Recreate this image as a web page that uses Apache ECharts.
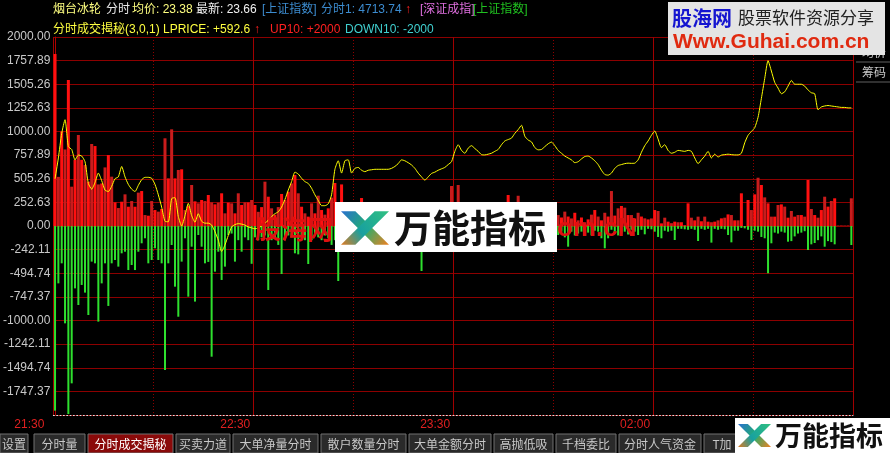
<!DOCTYPE html>
<html><head><meta charset="utf-8">
<script src="https://cdn.jsdelivr.net/npm/echarts@6/dist/echarts.min.js"></script>
<style>html,body{margin:0;padding:0;background:#000;}#c{width:890px;height:453px;}</style>
</head><body><div id="c"></div>
<script>
// ---- data ----
const timeLabels = ['21:30', '22:30', '23:30', '02:00', ''];
const yTickLabels = ['2000.00','1757.89','1505.26','1252.63','1000.00','757.89','505.26','252.63','0.00',
  '-242.11','-494.74','-747.37','-1000.00','-1242.11','-1494.74','-1747.37',''];

const buyVol = [
  1820,520,1000,810,1545,416,700,963,700,645,470,868,846,440,450,620,751,522,250,190,
  257,335,204,264,204,353,370,116,109,264,169,152,180,928,504,1023,504,593,600,169,
  212,434,261,240,275,264,328,250,229,247,346,134,247,240,134,346,222,250,250,275,
  222,150,200,469,310,187,120,200,339,275,363,451,540,346,204,134,99,240,134,321,
  169,120,187,300,455,150,440,200,150,100,120,100,296,150,120,80,150,100,130,90,
  160,120,80,140,100,150,90,130,110,80,150,100,120,90,140,100,80,120,100,423,
  150,434,120,100,150,90,120,100,130,80,150,100,120,150,100,200,328,150,120,320,
  180,120,100,90,150,120,100,80,130,100,120,116,90,152,100,80,140,60,90,40,
  70,120,169,100,60,140,100,370,110,187,212,194,116,116,80,140,100,81,70,80,
  169,159,28,88,46,30,46,40,40,10,240,88,60,99,50,99,46,40,46,60,
  81,88,123,116,60,60,346,0,275,169,335,511,434,303,240,99,99,222,229,205,
  88,159,99,116,116,99,487,180,116,88,169,310,205,265,293,5,5,5,5,293
];
const sellVol = [
  -1954,-607,-395,-1030,-1990,-1665,-660,-836,-624,-705,-942,-377,-395,-1012,-607,-395,-846,-395,-360,-430,
  -289,-272,-466,-413,-466,-272,-183,-130,-395,-360,-236,-360,-395,-1524,-395,-201,-642,-960,-377,-130,
  -748,-219,-800,-95,-219,-395,-380,-1383,-483,-272,-571,-430,-95,-80,-377,-150,-272,-120,-150,-400,
  -120,-150,-120,-100,-677,-150,-120,-200,-508,-150,-100,-120,-289,-300,-100,-150,-402,-150,-100,-120,
  -150,-100,-130,-200,-150,-582,-120,-100,-150,-100,-130,-120,-150,-100,-120,-90,-130,-100,-80,-120,
  -100,-150,-120,-100,-90,-130,-100,-80,-120,-100,-476,-100,-120,-90,-130,-100,-80,-120,-100,-150,
  -120,-100,-140,-90,-120,-100,-150,-80,-110,-130,-90,-120,-100,-140,-80,-120,-100,-90,-130,-110,
  -100,-120,-90,-140,-100,-80,-120,-100,-90,-130,-100,-95,-60,-120,-219,-60,-100,-80,-60,-40,
  -70,-100,-50,-60,-130,-236,-130,-40,-60,-100,-80,-60,-90,-40,-60,-95,-40,-88,-30,-35,
  -60,-116,-130,-50,-60,-50,-148,-30,-30,-35,-40,-30,-40,-159,-30,-40,-30,-176,-30,-40,
  -30,-35,-95,-173,-50,-50,-20,-25,-40,-148,-50,-60,-116,-130,-500,-183,-70,-80,-60,-70,
  -166,-160,-110,-80,-70,-55,-254,-194,-180,-150,-110,-219,-160,-170,-194,0,0,0,0,-201
];
const lprice = [
  500,720,980,1125,840,810,700,750,740,680,450,390,460,560,480,380,365,420,500,520,
  630,520,440,390,365,430,490,515,515,505,440,330,200,50,45,290,300,100,0,110,
  240,110,40,130,50,30,30,10,-60,-150,-270,-200,-100,-10,15,25,20,10,-10,-20,
  -30,-20,0,30,60,100,130,150,200,280,380,470,570,550,505,470,450,400,330,270,
  215,215,235,330,600,690,560,690,700,560,610,620,590,575,590,595,600,600,600,600,
  600,610,630,660,700,690,670,646,610,560,520,485,520,556,570,590,605,620,650,680,
  790,860,800,770,824,850,820,790,755,752,760,770,790,810,860,900,915,930,980,1020,
  1066,950,910,890,830,806,810,840,870,888,850,800,770,740,720,700,670,680,710,735,
  740,720,690,650,590,545,538,560,610,640,650,660,665,663,665,700,780,850,900,960,
  1005,920,830,860,800,770,780,800,795,790,800,790,720,660,700,740,790,720,760,730,
  750,755,760,755,752,752,770,880,960,1000,1040,1150,1350,1560,1750,1640,1520,1460,1400,1420,
  1480,1540,1500,1500,1500,1480,1440,1410,1400,1230,1260,1270,1275,1270,1265,1260,1255,1255,1250,1250
];

// ---- chart ----
const chart = echarts.init(document.getElementById('c'), null, {renderer: 'canvas'});
const FONT = '"Liberation Sans", "Noto Sans CJK SC", sans-serif';
const CJK = '"Noto Sans CJK SC", "Liberation Sans", sans-serif';

function txt(x, y, s, color, size, opts) {
  return Object.assign({
    type: 'text', x: x, y: y, z: 50,
    style: Object.assign({text: s, fill: color, fontSize: size || 12, fontFamily: FONT, verticalAlign: 'middle'}, (opts && opts.style) || {})
  }, opts && opts.el || {});
}

const header = [
  txt(53, 10, '烟台冰轮', '#ffff80'),
  txt(106, 10, '分时', '#e8e8e8'),
  txt(132, 10, '均价: 23.38', '#ffff80'),
  txt(196, 10, '最新: 23.66', '#f0f0f0'),
  txt(262, 10, '[上证指数]', '#3c8cd0'),
  txt(321, 10, '分时1: 4713.74', '#3c8cd0'),
  txt(405, 10, '↑', '#ff2020', 12, {style: {fontWeight: 'bold'}}),
  txt(420, 10, '[深证成指]', '#e070e0'),
  txt(473, 10, '[上证指数]', '#20c020'),
  txt(53, 30, '分时成交揭秘(3,0,1) LPRICE: +592.6', '#ffff40'),
  txt(254, 30, '↑', '#ff2020', 12, {style: {fontWeight: 'bold'}}),
  txt(270, 30, 'UP10: +2000', '#ff2020'),
  txt(345, 30, 'DOWN10: -2000', '#40d0d0')
];

// bottom tabs
const tabs = [
  ['设置', 0, 28], ['分时量', 34, 85], ['分时成交揭秘', 88, 173], ['买卖力道', 176, 230],
  ['大单净量分时', 233, 318], ['散户数量分时', 321, 406], ['大单金额分时', 409, 491],
  ['高抛低吸', 494, 553], ['千档委比', 556, 616], ['分时人气资金', 619, 701], ['T加', 704, 740]
];
const tabEls = [];
tabs.forEach((t, k) => {
  const sel = t[0] === '分时成交揭秘';
  tabEls.push({type: 'rect', z: 40, shape: {x: t[1], y: 434, width: t[2] - t[1], height: 19},
    style: {fill: sel ? '#8a0a0a' : '#2a2a2a', stroke: '#707070', lineWidth: 1}});
  tabEls.push({type: 'text', z: 41, x: (t[1] + t[2]) / 2, y: 444,
    style: {text: t[0], fill: sel ? '#ffffff' : '#c8c8c8', fontSize: 12, fontFamily: CJK, align: 'center', verticalAlign: 'middle'}});
});

// right side panel
const rightPanel = [
  {type: 'rect', z: 40, shape: {x: 854, y: 40, width: 36, height: 375}, style: {fill: '#000'}},
  txt(862, 52, '均价', '#c8c8c8', 12, {style: {fontFamily: CJK}}),
  {type: 'line', z: 41, shape: {x1: 856, y1: 62, x2: 890, y2: 62}, style: {stroke: '#606060'}},
  txt(862, 72, '筹码', '#c8c8c8', 12, {style: {fontFamily: CJK}}),
  {type: 'line', z: 41, shape: {x1: 856, y1: 82, x2: 890, y2: 82}, style: {stroke: '#606060'}}
];

function logo(x, y, s) {
  return [
    {type: 'polygon', z: 62, shape: {points: [[x, y + 0.15*s],[x + 0.3*s, y + 0.15*s],[x + s, y + 0.85*s],[x + 0.7*s, y + 0.85*s]]},
      style: {fill: new echarts.graphic.LinearGradient(0, 0, 1, 1, [{offset: 0, color: '#2a6fd0'}, {offset: 0.5, color: '#20b070'}, {offset: 1, color: '#f08020'}])}},
    {type: 'polygon', z: 63, shape: {points: [[x + 0.7*s, y + 0.15*s],[x + s, y + 0.15*s],[x + 0.3*s, y + 0.85*s],[x, y + 0.85*s]]},
      style: {fill: new echarts.graphic.LinearGradient(1, 0, 0, 1, [{offset: 0, color: '#30c080'}, {offset: 0.6, color: '#18a0a0'}, {offset: 1, color: '#e07a20'}])}}
  ];
}

const watermarks = [
  {type: 'text', z: 58, x: 255, y: 229, style: {text: '股海网', fill: '#e01010', fontSize: 26, fontWeight: 'bold', fontFamily: CJK, verticalAlign: 'middle'}},
  {type: 'text', z: 58, x: 557, y: 229, style: {text: 'om.cN', fill: '#e01010', fontSize: 26, fontWeight: 'bold', fontFamily: FONT, verticalAlign: 'middle'}},
  {type: 'rect', z: 60, shape: {x: 335, y: 202, width: 222, height: 50}, style: {fill: '#ffffff'}},
  ...logo(341, 204, 48),
  {type: 'text', z: 64, x: 394, y: 228, style: {text: '万能指标', fill: '#111', fontSize: 38, fontWeight: 'bold', fontFamily: CJK, verticalAlign: 'middle'}},
  {type: 'rect', z: 60, shape: {x: 735, y: 418, width: 155, height: 35}, style: {fill: '#ffffff'}},
  ...logo(738, 419, 33),
  {type: 'text', z: 64, x: 775, y: 436, style: {text: '万能指标', fill: '#111', fontSize: 27, fontWeight: 'bold', fontFamily: CJK, verticalAlign: 'middle'}},
  {type: 'rect', z: 60, shape: {x: 668, y: 2, width: 217, height: 53}, style: {fill: '#e4e4e4'}},
  {type: 'text', z: 64, x: 672, y: 18, style: {text: '股海网', fill: '#1515d0', fontSize: 20, fontWeight: 'bold', fontFamily: CJK, verticalAlign: 'middle'}},
  {type: 'text', z: 64, x: 738, y: 18, style: {text: '股票软件资源分享', fill: '#222', fontSize: 17, fontFamily: CJK, verticalAlign: 'middle'}},
  {type: 'text', z: 64, x: 673, y: 42, style: {text: 'Www.Guhai.com.cn', fill: '#e02a10', fontSize: 21, fontWeight: 'bold', fontFamily: FONT, verticalAlign: 'middle'}}
];

const xCommon = {type: 'value', min: -0.5, max: 239.5, interval: 60};
const option = {
  backgroundColor: '#000000',
  animation: false,
  grid: {left: 53, right: 37, top: 37, bottom: 38, containLabel: false},
  xAxis: [Object.assign({}, xCommon, {
    axisLine: {show: true, onZero: false, lineStyle: {color: '#e0e0e0', width: 1, type: [1, 2.33]}},
    axisTick: {show: false},
    axisLabel: {
      show: true, color: '#e02020', fontSize: 12, fontFamily: FONT, align: 'right', margin: 4,
      padding: [0, 3, 0, 0],
      showMinLabel: true, showMaxLabel: false,
      formatter: v => {
        const k = Math.round((v + 0.5) / 60);
        return k === 0 ? '{f|' + timeLabels[0] + '}' : (timeLabels[k] || '');
      },
      rich: {f: {color: '#e02020', fontSize: 12, fontFamily: FONT, padding: [0, 6, 0, 0]}}
    },
    splitLine: {show: true, lineStyle: {color: '#a00000', width: 1}},
    minorTick: {show: false, splitNumber: 2},
    minorSplitLine: {show: true, lineStyle: {color: '#8c0000', width: 1, type: [1, 2]}}
  }), Object.assign({}, xCommon, {show: false, splitLine: {show: false}})],
  yAxis: {
    type: 'value', min: -2000, max: 2000, interval: 250,
    axisLine: {show: true, lineStyle: {color: '#b00000'}},
    axisTick: {show: false},
    axisLabel: {color: '#c8c8c8', fontSize: 12, fontFamily: FONT, margin: 3,
      formatter: v => yTickLabels[Math.round((2000 - v) / 250)]},
    splitLine: {show: true, lineStyle: {color: '#8c0000', width: 1}}
  },
  series: [
    {type: 'bar', name: 'buy', xAxisIndex: 0, data: buyVol.map((v, i) => [i, v]), barWidth: 3,
      itemStyle: {color: p => (p.dataIndex % 2 ? '#c81c1c' : '#ff1010')}, z: 2},
    {type: 'bar', name: 'sell', xAxisIndex: 1, data: sellVol.map((v, i) => [i, v]), barWidth: 2,
      itemStyle: {color: '#2ee02e'}, z: 2},
    {type: 'line', name: 'LPRICE', xAxisIndex: 0, data: lprice.map((v, i) => [i, v]), showSymbol: false, smooth: 0.2,
      lineStyle: {color: '#ffff00', width: 1}, z: 5}
  ],
  graphic: [...header, ...rightPanel, ...tabEls, ...watermarks]
};
chart.setOption(option);
</script>
</body></html>
